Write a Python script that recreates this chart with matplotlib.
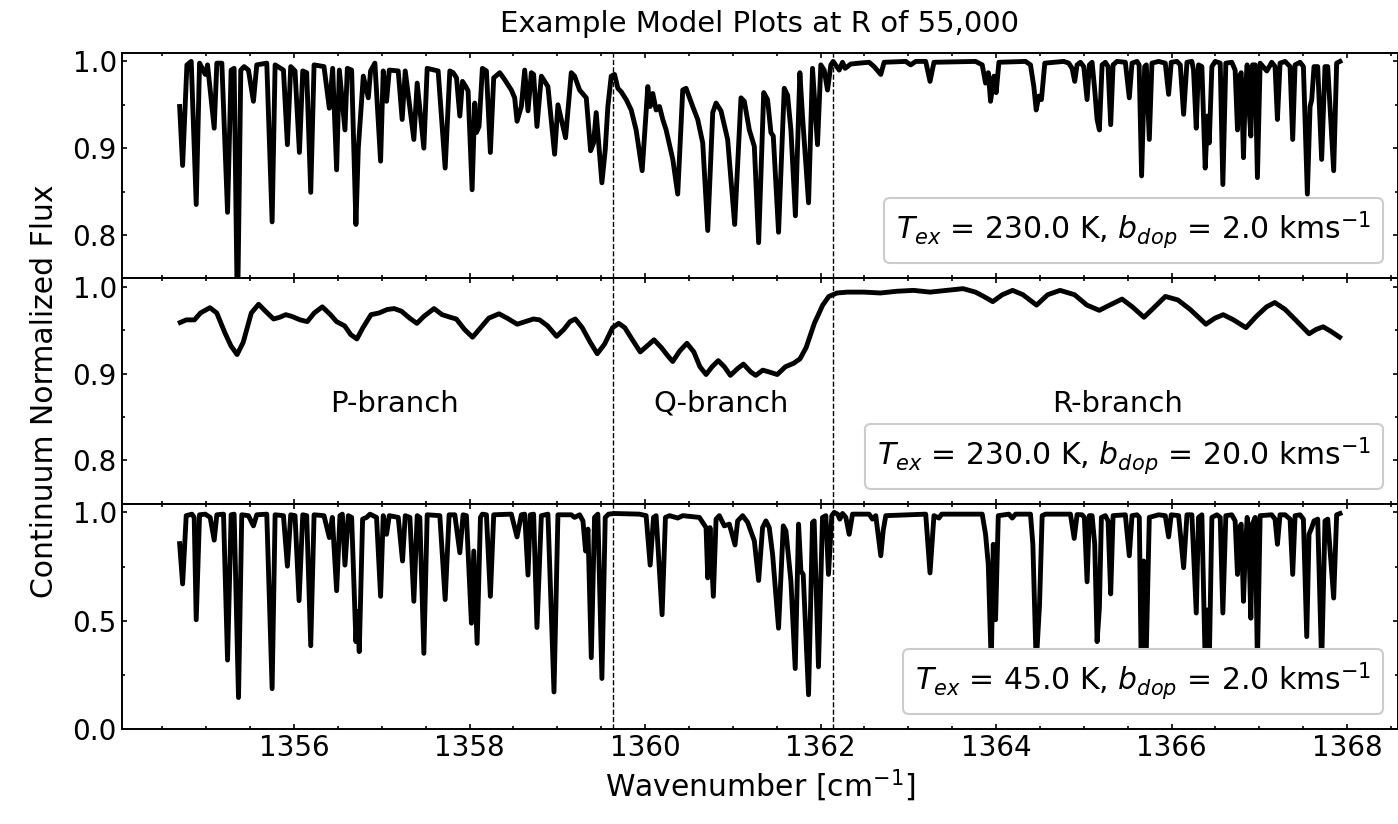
import numpy as np
import matplotlib
matplotlib.use("Agg")
import matplotlib.pyplot as plt
from matplotlib.lines import Line2D
from matplotlib.ticker import MultipleLocator

# spectra: (wavenumber, normalized flux) vertices
top_spec = [
    (1354.696, 0.948), (1354.730, 0.880), (1354.779, 0.996), (1354.828, 1.000), (1354.885, 0.835),
    (1354.923, 0.998), (1354.988, 0.985), (1355.014, 0.996), (1355.090, 0.923), (1355.120, 0.998),
    (1355.177, 0.998), (1355.242, 0.826), (1355.283, 0.990), (1355.317, 0.992), (1355.355, 0.700),
    (1355.393, 0.990), (1355.431, 0.994), (1355.480, 0.990), (1355.537, 0.954), (1355.575, 0.996),
    (1355.689, 0.998), (1355.750, 0.815), (1355.784, 0.996), (1355.879, 0.990), (1355.924, 0.904),
    (1355.962, 0.994), (1356.011, 0.989), (1356.061, 0.895), (1356.099, 0.989), (1356.144, 0.987),
    (1356.190, 0.849), (1356.228, 0.996), (1356.341, 0.994), (1356.402, 0.946), (1356.440, 0.992),
    (1356.485, 0.875), (1356.516, 0.990), (1356.580, 0.921), (1356.607, 0.992), (1356.656, 0.990),
    (1356.705, 0.812), (1356.732, 0.900), (1356.789, 0.983), (1356.846, 0.958), (1356.872, 0.989),
    (1356.921, 0.998), (1356.986, 0.885), (1357.016, 0.989), (1357.054, 0.954), (1357.085, 0.990),
    (1357.187, 0.989), (1357.232, 0.933), (1357.267, 0.989), (1357.365, 0.910), (1357.403, 0.975),
    (1357.479, 0.900), (1357.517, 0.992), (1357.642, 0.989), (1357.722, 0.877), (1357.775, 0.989),
    (1357.813, 0.987), (1357.851, 0.981), (1357.889, 0.937), (1357.919, 0.977), (1357.957, 0.971),
    (1357.983, 0.966), (1358.029, 0.852), (1358.059, 0.952), (1358.078, 0.918), (1358.108, 0.925),
    (1358.146, 0.992), (1358.192, 0.989), (1358.237, 0.895), (1358.275, 0.981), (1358.344, 0.987),
    (1358.400, 0.979), (1358.476, 0.967), (1358.514, 0.958), (1358.541, 0.931), (1358.590, 0.948),
    (1358.628, 0.990), (1358.666, 0.943), (1358.704, 0.987), (1358.730, 0.985), (1358.768, 0.925),
    (1358.818, 0.983), (1358.856, 0.977), (1358.893, 0.971), (1358.969, 0.893), (1359.007, 0.950),
    (1359.094, 0.912), (1359.159, 0.987), (1359.197, 0.983), (1359.254, 0.967), (1359.330, 0.958),
    (1359.379, 0.897), (1359.413, 0.906), (1359.443, 0.941), (1359.508, 0.860), (1359.546, 0.898),
    (1359.576, 0.948), (1359.614, 0.983), (1359.652, 0.985), (1359.690, 0.969), (1359.728, 0.965),
    (1359.785, 0.956), (1359.842, 0.944), (1359.898, 0.921), (1359.967, 0.874), (1360.031, 0.971),
    (1360.058, 0.948), (1360.088, 0.963), (1360.126, 0.944), (1360.164, 0.948), (1360.202, 0.933),
    (1360.240, 0.921), (1360.316, 0.887), (1360.372, 0.847), (1360.429, 0.967), (1360.467, 0.969),
    (1360.543, 0.948), (1360.600, 0.933), (1360.657, 0.906), (1360.714, 0.805), (1360.771, 0.941),
    (1360.809, 0.952), (1360.865, 0.943), (1360.941, 0.910), (1361.021, 0.812), (1361.093, 0.958),
    (1361.131, 0.954), (1361.188, 0.921), (1361.245, 0.902), (1361.294, 0.791), (1361.352, 0.964),
    (1361.396, 0.956), (1361.434, 0.918), (1361.461, 0.914), (1361.521, 0.803), (1361.586, 0.969),
    (1361.624, 0.961), (1361.662, 0.921), (1361.713, 0.822), (1361.764, 0.987), (1361.794, 0.937),
    (1361.863, 0.837), (1361.908, 0.992), (1361.965, 0.904), (1362.003, 0.996), (1362.041, 0.990),
    (1362.079, 0.967), (1362.117, 0.996), (1362.143, 1.000), (1362.212, 0.990), (1362.250, 0.999),
    (1362.280, 0.992), (1362.344, 0.997), (1362.439, 0.998), (1362.553, 0.999), (1362.610, 0.994),
    (1362.686, 0.985), (1362.724, 0.999), (1362.970, 1.000), (1363.027, 0.996), (1363.084, 1.000),
    (1363.198, 1.000), (1363.247, 0.977), (1363.292, 0.999), (1363.766, 1.000), (1363.842, 0.996),
    (1363.880, 0.975), (1363.911, 0.987), (1363.937, 0.954), (1363.975, 0.983), (1364.001, 0.964),
    (1364.032, 0.999), (1364.335, 1.000), (1364.392, 0.996), (1364.430, 0.971), (1364.457, 0.944),
    (1364.487, 0.960), (1364.517, 0.956), (1364.555, 0.998), (1364.771, 1.000), (1364.828, 0.998),
    (1364.866, 0.992), (1364.896, 0.977), (1364.923, 0.996), (1364.961, 0.999), (1364.999, 0.994),
    (1365.037, 0.956), (1365.063, 0.996), (1365.094, 0.999), (1365.124, 0.967), (1365.151, 0.933),
    (1365.177, 0.921), (1365.208, 0.996), (1365.245, 0.999), (1365.276, 0.994), (1365.306, 0.927),
    (1365.333, 0.996), (1365.378, 1.000), (1365.473, 0.999), (1365.518, 0.958), (1365.549, 0.998),
    (1365.606, 1.000), (1365.630, 0.996), (1365.658, 0.868), (1365.693, 0.994), (1365.712, 0.996),
    (1365.746, 0.910), (1365.776, 0.998), (1365.852, 1.000), (1365.928, 0.998), (1365.966, 0.962),
    (1365.996, 0.999), (1366.061, 1.000), (1366.099, 0.996), (1366.137, 0.939), (1366.175, 0.999),
    (1366.231, 1.000), (1366.250, 0.990), (1366.281, 0.923), (1366.307, 0.996), (1366.345, 0.994),
    (1366.383, 0.877), (1366.410, 0.937), (1366.429, 0.906), (1366.459, 0.994), (1366.497, 1.000),
    (1366.554, 0.998), (1366.584, 0.858), (1366.618, 0.998), (1366.686, 0.999), (1366.724, 0.990),
    (1366.751, 0.921), (1366.774, 0.983), (1366.793, 0.987), (1366.819, 0.889), (1366.838, 0.960),
    (1366.861, 0.996), (1366.876, 0.956), (1366.903, 0.914), (1366.922, 0.996), (1366.952, 0.996),
    (1366.978, 0.866), (1367.009, 0.998), (1367.085, 0.989), (1367.141, 0.999), (1367.179, 0.994),
    (1367.206, 0.933), (1367.236, 0.998), (1367.293, 1.000), (1367.350, 0.994), (1367.380, 0.910),
    (1367.407, 0.996), (1367.464, 0.999), (1367.502, 0.994), (1367.547, 0.847), (1367.578, 0.948),
    (1367.597, 0.956), (1367.623, 0.994), (1367.665, 0.994), (1367.710, 0.887), (1367.748, 0.994),
    (1367.779, 0.994), (1367.847, 0.874), (1367.881, 0.998), (1367.919, 1.000),
]

mid_spec = [
    (1354.703, 0.959), (1354.772, 0.962), (1354.865, 0.962), (1354.934, 0.970), (1355.041, 0.976),
    (1355.119, 0.970), (1355.212, 0.947), (1355.281, 0.932), (1355.351, 0.922), (1355.420, 0.936),
    (1355.513, 0.970), (1355.596, 0.980), (1355.674, 0.972), (1355.767, 0.963), (1355.836, 0.965),
    (1355.906, 0.968), (1355.975, 0.966), (1356.068, 0.962), (1356.151, 0.960), (1356.230, 0.970),
    (1356.322, 0.977), (1356.415, 0.968), (1356.484, 0.960), (1356.577, 0.955), (1356.646, 0.945),
    (1356.716, 0.940), (1356.785, 0.953), (1356.877, 0.968), (1356.970, 0.970), (1357.063, 0.974),
    (1357.141, 0.975), (1357.224, 0.972), (1357.317, 0.964), (1357.400, 0.958), (1357.479, 0.966),
    (1357.595, 0.975), (1357.687, 0.968), (1357.780, 0.965), (1357.849, 0.963), (1357.942, 0.951),
    (1358.034, 0.942), (1358.127, 0.953), (1358.219, 0.964), (1358.335, 0.969), (1358.428, 0.964),
    (1358.543, 0.957), (1358.636, 0.960), (1358.728, 0.963), (1358.798, 0.962), (1358.890, 0.955),
    (1358.992, 0.943), (1359.075, 0.951), (1359.145, 0.960), (1359.205, 0.963), (1359.284, 0.953),
    (1359.376, 0.936), (1359.455, 0.923), (1359.538, 0.934), (1359.630, 0.953), (1359.700, 0.958),
    (1359.769, 0.953), (1359.862, 0.938), (1359.945, 0.925), (1360.024, 0.932), (1360.102, 0.939),
    (1360.186, 0.930), (1360.255, 0.921), (1360.315, 0.914), (1360.394, 0.926), (1360.477, 0.935),
    (1360.556, 0.925), (1360.625, 0.908), (1360.695, 0.899), (1360.764, 0.908), (1360.834, 0.915),
    (1360.903, 0.908), (1360.972, 0.898), (1361.056, 0.906), (1361.121, 0.911), (1361.204, 0.902),
    (1361.261, 0.898), (1361.341, 0.904), (1361.412, 0.902), (1361.506, 0.899), (1361.600, 0.908),
    (1361.694, 0.912), (1361.765, 0.917), (1361.835, 0.930), (1361.929, 0.958), (1362.024, 0.979),
    (1362.094, 0.989), (1362.188, 0.993), (1362.306, 0.994), (1362.494, 0.994), (1362.682, 0.993),
    (1362.871, 0.995), (1363.059, 0.996), (1363.247, 0.994), (1363.435, 0.996), (1363.624, 0.998),
    (1363.765, 0.994), (1363.859, 0.989), (1363.962, 0.983), (1364.071, 0.991), (1364.188, 0.996),
    (1364.306, 0.991), (1364.461, 0.979), (1364.588, 0.991), (1364.729, 0.996), (1364.894, 0.991),
    (1365.035, 0.979), (1365.176, 0.973), (1365.294, 0.979), (1365.435, 0.986), (1365.553, 0.977),
    (1365.685, 0.965), (1365.788, 0.975), (1365.929, 0.989), (1366.071, 0.985), (1366.212, 0.974),
    (1366.391, 0.957), (1366.494, 0.964), (1366.588, 0.968), (1366.706, 0.962), (1366.847, 0.953),
    (1366.965, 0.966), (1367.082, 0.977), (1367.176, 0.982), (1367.294, 0.974), (1367.412, 0.962),
    (1367.567, 0.946), (1367.647, 0.951), (1367.727, 0.954), (1367.812, 0.949), (1367.915, 0.942),
]

bot_spec = [
    (1354.696, 0.856), (1354.730, 0.670), (1354.771, 0.985), (1354.836, 0.992), (1354.862, 0.977),
    (1354.885, 0.505), (1354.923, 0.989), (1354.988, 0.992), (1355.044, 0.977), (1355.090, 0.872),
    (1355.120, 0.989), (1355.196, 0.992), (1355.242, 0.319), (1355.283, 0.989), (1355.317, 0.992),
    (1355.367, 0.146), (1355.404, 0.989), (1355.480, 0.985), (1355.537, 0.938), (1355.575, 0.989),
    (1355.689, 0.992), (1355.750, 0.187), (1355.784, 0.989), (1355.879, 0.985), (1355.924, 0.752),
    (1355.962, 0.989), (1356.011, 0.985), (1356.057, 0.593), (1356.099, 0.989), (1356.144, 0.985),
    (1356.190, 0.385), (1356.228, 0.989), (1356.341, 0.985), (1356.402, 0.884), (1356.436, 0.977),
    (1356.485, 0.639), (1356.523, 0.985), (1356.550, 0.992), (1356.580, 0.757), (1356.618, 0.985),
    (1356.656, 0.977), (1356.705, 0.404), (1356.720, 0.543), (1356.743, 0.358), (1356.781, 0.969),
    (1356.827, 0.977), (1356.865, 0.992), (1356.940, 0.977), (1356.986, 0.613), (1357.016, 0.985),
    (1357.054, 0.899), (1357.085, 0.985), (1357.187, 0.977), (1357.236, 0.776), (1357.267, 0.985),
    (1357.320, 0.977), (1357.365, 0.590), (1357.403, 0.985), (1357.433, 0.977), (1357.479, 0.350),
    (1357.517, 0.989), (1357.661, 0.985), (1357.722, 0.598), (1357.767, 0.989), (1357.832, 0.989),
    (1357.889, 0.814), (1357.926, 0.989), (1357.964, 0.985), (1358.021, 0.489), (1358.048, 0.822),
    (1358.086, 0.396), (1358.124, 0.977), (1358.146, 0.992), (1358.192, 0.989), (1358.237, 0.613),
    (1358.275, 0.989), (1358.476, 0.992), (1358.541, 0.887), (1358.590, 0.989), (1358.628, 0.992),
    (1358.666, 0.711), (1358.692, 0.989), (1358.730, 0.992), (1358.768, 0.469), (1358.818, 0.985),
    (1358.893, 0.992), (1358.962, 0.172), (1359.007, 0.989), (1359.159, 0.989), (1359.197, 0.977),
    (1359.254, 0.989), (1359.292, 0.961), (1359.322, 0.822), (1359.349, 0.923), (1359.387, 0.330),
    (1359.424, 0.977), (1359.462, 0.992), (1359.508, 0.234), (1359.546, 0.977), (1359.584, 0.992),
    (1359.652, 0.995), (1359.936, 0.992), (1360.012, 0.985), (1360.058, 0.757), (1360.096, 0.977),
    (1360.126, 0.985), (1360.194, 0.528), (1360.232, 0.977), (1360.279, 0.985), (1360.372, 0.974),
    (1360.429, 0.985), (1360.619, 0.977), (1360.695, 0.930), (1360.714, 0.698), (1360.740, 0.930),
    (1360.778, 0.613), (1360.809, 0.969), (1360.846, 0.985), (1360.903, 0.938), (1360.960, 0.946),
    (1361.025, 0.850), (1361.055, 0.961), (1361.112, 0.985), (1361.169, 0.954), (1361.245, 0.869),
    (1361.294, 0.686), (1361.339, 0.930), (1361.377, 0.961), (1361.415, 0.930), (1361.453, 0.807),
    (1361.521, 0.466), (1361.575, 0.938), (1361.605, 0.915), (1361.662, 0.683), (1361.711, 0.280),
    (1361.749, 0.946), (1361.776, 0.729), (1361.802, 0.714), (1361.863, 0.159), (1361.908, 0.954),
    (1361.927, 0.961), (1361.976, 0.288), (1362.022, 0.977), (1362.060, 0.985), (1362.090, 0.714),
    (1362.128, 0.985), (1362.155, 1.000), (1362.193, 0.992), (1362.219, 0.969), (1362.250, 0.995),
    (1362.288, 0.977), (1362.326, 0.899), (1362.364, 0.992), (1362.553, 0.992), (1362.591, 0.969),
    (1362.629, 0.985), (1362.686, 0.800), (1362.713, 0.915), (1362.743, 0.985), (1363.198, 0.992),
    (1363.247, 0.721), (1363.292, 0.985), (1363.349, 0.974), (1363.380, 0.992), (1363.842, 0.992),
    (1363.880, 0.899), (1363.911, 0.760), (1363.945, 0.300), (1363.968, 0.853), (1363.994, 0.505),
    (1364.025, 0.985), (1364.146, 0.992), (1364.184, 0.974), (1364.222, 0.992), (1364.392, 0.992),
    (1364.419, 0.853), (1364.457, 0.300), (1364.495, 0.574), (1364.525, 0.985), (1364.563, 0.992),
    (1364.847, 0.992), (1364.890, 0.880), (1364.923, 0.990), (1364.980, 0.989), (1365.006, 0.977),
    (1365.037, 0.680), (1365.063, 0.985), (1365.094, 0.985), (1365.124, 0.853), (1365.151, 0.404),
    (1365.177, 0.559), (1365.200, 0.977), (1365.245, 0.985), (1365.276, 0.961), (1365.306, 0.624),
    (1365.333, 0.985), (1365.473, 0.989), (1365.518, 0.800), (1365.549, 0.985), (1365.606, 0.989),
    (1365.632, 0.977), (1365.655, 0.250), (1365.681, 0.776), (1365.708, 0.300), (1365.746, 0.977),
    (1365.852, 0.989), (1365.928, 0.985), (1365.966, 0.887), (1365.996, 0.989), (1366.080, 0.985),
    (1366.137, 0.745), (1366.175, 0.989), (1366.231, 0.989), (1366.281, 0.536), (1366.307, 0.977),
    (1366.345, 0.989), (1366.383, 0.300), (1366.405, 0.550), (1366.429, 0.300), (1366.459, 0.977),
    (1366.516, 0.989), (1366.554, 0.977), (1366.584, 0.536), (1366.618, 0.985), (1366.686, 0.989),
    (1366.724, 0.961), (1366.751, 0.714), (1366.774, 0.930), (1366.793, 0.946), (1366.819, 0.590),
    (1366.838, 0.807), (1366.861, 0.977), (1366.876, 0.930), (1366.903, 0.512), (1366.922, 0.946),
    (1366.952, 0.977), (1366.978, 0.300), (1367.009, 0.985), (1367.141, 0.989), (1367.179, 0.969),
    (1367.206, 0.853), (1367.236, 0.989), (1367.293, 0.989), (1367.350, 0.969), (1367.380, 0.714),
    (1367.407, 0.985), (1367.464, 0.989), (1367.502, 0.969), (1367.540, 0.427), (1367.566, 0.899),
    (1367.597, 0.930), (1367.623, 0.961), (1367.665, 0.969), (1367.710, 0.300), (1367.748, 0.961),
    (1367.779, 0.969), (1367.847, 0.605), (1367.881, 0.989), (1367.919, 0.995),
]

branch_edges = [1359.64, 1362.14]
branch_names = ["P-branch", "Q-branch", "R-branch"]
branch_pos = [1357.15, 1360.87, 1365.38]

panel_labels = [
    r"$T_{ex}$ = 230.0 K, $b_{dop}$ = 2.0 kms$^{-1}$",
    r"$T_{ex}$ = 230.0 K, $b_{dop}$ = 20.0 kms$^{-1}$",
    r"$T_{ex}$ = 45.0 K, $b_{dop}$ = 2.0 kms$^{-1}$",
]

TICK_FS = 20
TEXT_FS = 21.5

fig = plt.figure(figsize=(13.98, 8.24), dpi=100)
# right spine sits on the image edge, as in the source figure
gs = fig.add_gridspec(3, 1, hspace=0, left=0.087, right=1.0, top=0.936, bottom=0.115)
axes = [fig.add_subplot(gs[i]) for i in range(3)]

specs = [top_spec, mid_spec, bot_spec]
ylims = [(0.75, 1.01), (0.75, 1.01), (0.0, 1.04)]
majors = [0.1, 0.1, 0.5]

for i, ax in enumerate(axes):
    wn, flux = np.array(specs[i]).T
    ax.plot(wn, flux, color="black", lw=3.5)
    for e in branch_edges:
        ax.axvline(e, color="black", ls="--", lw=1)
    ax.set_xlim(1354.035, 1368.58)
    ax.set_ylim(*ylims[i])
    ax.xaxis.set_major_locator(MultipleLocator(2))
    ax.xaxis.set_minor_locator(MultipleLocator(0.5))
    ax.yaxis.set_major_locator(MultipleLocator(majors[i]))
    ax.yaxis.set_minor_locator(MultipleLocator(majors[i] / 2))
    ax.tick_params(which="both", direction="in", top=True, right=True,
                   labelsize=TICK_FS, width=1.2)
    for s in ax.spines.values():
        s.set_linewidth(1.4)
    if i < 2:
        ax.tick_params(labelbottom=False)
    leg = ax.legend([Line2D([], [], alpha=0)], [panel_labels[i]], loc="lower right",
                    handlelength=0, handletextpad=0, fontsize=TEXT_FS, framealpha=1)
    leg.get_frame().set_linewidth(1.5)

for name, xpos in zip(branch_names, branch_pos):
    axes[1].text(xpos, 0.865, name, ha="center", va="center", fontsize=21)

axes[0].set_title("Example Model Plots at R of 55,000", fontsize=21, pad=15)
axes[2].set_xlabel("Wavenumber [cm$^{-1}$]", fontsize=TEXT_FS)
axes[1].set_ylabel("Continuum Normalized Flux", fontsize=TEXT_FS, labelpad=10)

fig.savefig("out.png", dpi=100)
